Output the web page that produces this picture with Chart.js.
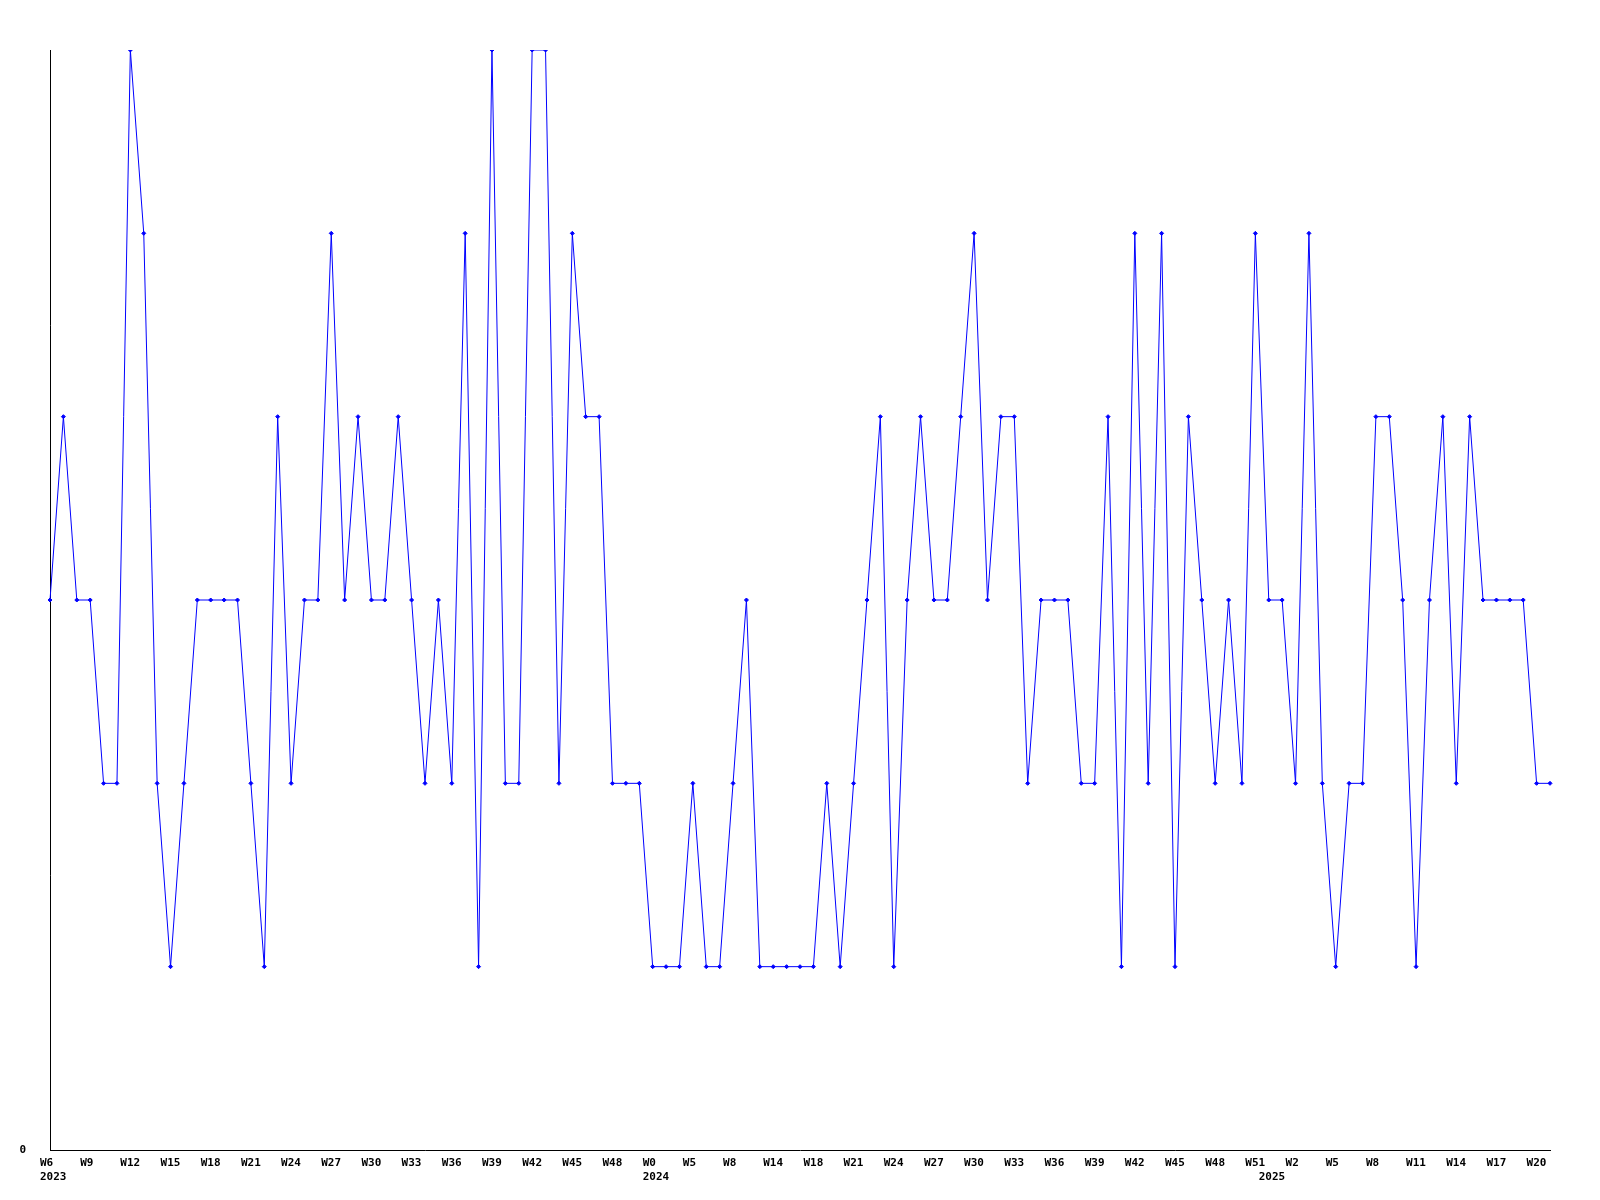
<!DOCTYPE html>
<html>
<head>
<meta charset="utf-8">
<title>Weekly chart</title>
<script src="https://cdn.jsdelivr.net/npm/chart.js@4/dist/chart.umd.min.js"></script>
<style>
    html, body { margin: 0; padding: 0; background: #ffffff; }
    canvas { display: block; }
</style>
</head>
<body>
<canvas id="chartCanvas" width="1600" height="1200"></canvas>
<script>
// week labels (only every 3rd one is printed on the axis)
const weeks = [
    'W6', 'W7', 'W8', 'W9', 'W10', 'W11', 'W12', 'W13', 'W14', 'W15',
    'W16', 'W17', 'W18', 'W19', 'W20', 'W21', 'W22', 'W23', 'W24', 'W25',
    'W26', 'W27', 'W28', 'W29', 'W30', 'W31', 'W32', 'W33', 'W34', 'W35',
    'W36', 'W37', 'W38', 'W39', 'W40', 'W41', 'W42', 'W43', 'W44', 'W45',
    'W46', 'W47', 'W48', 'W50', 'W52',
    'W0', 'W2', 'W3', 'W5', 'W6', 'W7', 'W8', 'W10', 'W12', 'W14',
    'W15', 'W16', 'W18', 'W19', 'W20', 'W21', 'W22', 'W23', 'W24', 'W25',
    'W26', 'W27', 'W28', 'W29', 'W30', 'W31', 'W32', 'W33', 'W34', 'W35',
    'W36', 'W37', 'W38', 'W39', 'W40', 'W41', 'W42', 'W43', 'W44', 'W45',
    'W46', 'W47', 'W48', 'W49', 'W50', 'W51',
    'W0', 'W1', 'W2', 'W3', 'W4', 'W5', 'W6', 'W7', 'W8', 'W9',
    'W10', 'W11', 'W12', 'W13', 'W14', 'W15', 'W16', 'W17', 'W18', 'W19',
    'W20', 'W21'
];

const years = [].concat(
    Array(45).fill(2023),
    Array(46).fill(2024),
    Array(22).fill(2025)
);

const values = [
    3, 4, 3, 3, 2, 2, 6, 5, 2, 1,
    2, 3, 3, 3, 3, 2, 1, 4, 2, 3,
    3, 5, 3, 4, 3, 3, 4, 3, 2, 3,
    2, 5, 1, 6, 2, 2, 6, 6, 2, 5,
    4, 4, 2, 2, 2, 1, 1, 1, 2, 1,
    1, 2, 3, 1, 1, 1, 1, 1, 2, 1,
    2, 3, 4, 1, 3, 4, 3, 3, 4, 5,
    3, 4, 4, 2, 3, 3, 3, 2, 2, 4,
    1, 5, 2, 5, 1, 4, 3, 2, 3, 2,
    5, 3, 3, 2, 5, 2, 1, 2, 2, 4,
    4, 3, 1, 3, 4, 2, 4, 3, 3, 3,
    3, 2, 2
];

const yTicks = [0];

const font = { family: '"DejaVu Sans Mono", monospace', size: 11, weight: 'bold' };

// week every 3rd category, year under the first week of each year
function tickLabel(value, index) {
    const week = index % 3 === 0 ? weeks[index] : '';
    if (index === 0 || years[index] !== years[index - 1]) {
        return [week, String(years[index])];
    }
    return week;
}

const ctx = document.getElementById('chartCanvas').getContext('2d');

const chart = new Chart(ctx, {
    type: 'line',
    data: {
        labels: weeks,
        datasets: [{
            label: 'count',
            data: values,
            borderColor: '#0000ff',
            backgroundColor: '#0000ff',
            borderWidth: 1,
            pointStyle: 'rectRot',
            pointRadius: 2,
            pointBorderWidth: 1,
            tension: 0,
            fill: false
        }]
    },
    options: {
        responsive: false,
        animation: false,
        layout: { padding: { top: 50, right: 50, left: 0, bottom: 0 } },
        plugins: {
            legend: { display: false },
            tooltip: { enabled: false }
        },
        scales: {
            x: {
                grid: { display: false, drawTicks: false },
                border: { display: true, color: '#000000', width: 1 },
                ticks: {
                    autoSkip: false,
                    maxRotation: 0,
                    minRotation: 0,
                    align: 'start',
                    labelOffset: -10,
                    padding: 7,
                    color: '#000000',
                    font: font,
                    callback: tickLabel
                },
                afterFit: scale => { scale.height = 50; }
            },
            y: {
                min: 0,
                max: 6,
                grid: { display: false, drawTicks: false },
                border: { display: true, color: '#000000', width: 1 },
                ticks: {
                    stepSize: 1,
                    padding: 24,
                    color: '#000000',
                    font: font,
                    callback: v => yTicks.includes(v) ? String(v) : ''
                },
                afterFit: scale => { scale.width = 50; }
            }
        }
    }
});
</script>
</body>
</html>
